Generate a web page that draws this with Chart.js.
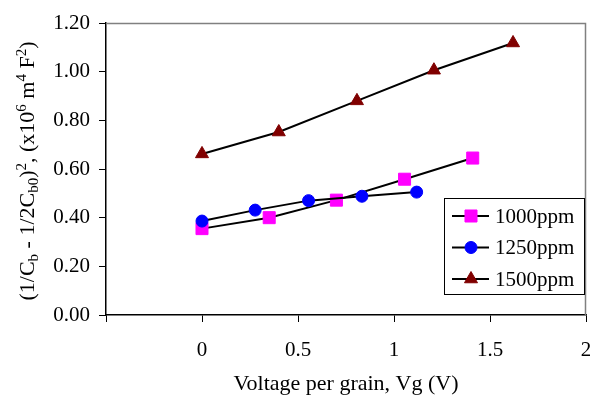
<!DOCTYPE html>
<html>
<head>
<meta charset="utf-8">
<script src="https://cdn.jsdelivr.net/npm/chart.js@4.4.0/dist/chart.umd.min.js"></script>
<style>
  html, body { margin: 0; padding: 0; background: #fff; }
  #wrap { width: 590px; height: 401px; position: relative; }
</style>
</head>
<body>
<div id="wrap"><canvas id="cvChart" width="590" height="401"></canvas></div>
<script>
// series
const seriesNames = ['1000ppm', '1250ppm', '1500ppm'];
const x1000 = [0, 0.35, 0.70, 1.055, 1.41];
const y1000 = [0.355, 0.40, 0.472, 0.558, 0.645];
const x1250 = [0, 0.277, 0.555, 0.833, 1.118];
const y1250 = [0.386, 0.431, 0.470, 0.488, 0.505];
const x1500 = [0, 0.40, 0.807, 1.208, 1.62];
const y1500 = [0.662, 0.752, 0.880, 1.006, 1.118];
const xTicks = [-0.5, 0, 0.5, 1, 1.5, 2];
const yTicks = [0, 0.2, 0.4, 0.6, 0.8, 1.0, 1.2];

const SERIF = '"Liberation Serif", "Times New Roman", serif';
const FS = 21;
const TITLE_FS = 22;

function pts(xs, ys) {
    return xs.map(function (x, i) { return { x: x, y: ys[i] }; });
}

const styles = [
    { color: '#ff00ff', shape: 'rect', r: 8.5 },
    { color: '#0000ff', shape: 'circle', r: 6 },
    { color: '#800000', shape: 'triangle', r: 7.5 }
];
const allData = [pts(x1000, y1000), pts(x1250, y1250), pts(x1500, y1500)];

// axis titles, plot frame and legend box
const decorPlugin = {
    id: 'decor',
    afterDraw: function (chart) {
        const ctx = chart.ctx;
        const a = chart.chartArea;
        ctx.save();

        // grey top/right frame
        ctx.strokeStyle = '#808080';
        ctx.lineWidth = 1.5;
        ctx.beginPath();
        ctx.moveTo(a.left, a.top + 0.5);
        ctx.lineTo(a.right - 0.5, a.top + 0.5);
        ctx.lineTo(a.right - 0.5, a.bottom);
        ctx.stroke();

        // x title
        ctx.fillStyle = '#000';
        ctx.font = TITLE_FS + 'px ' + SERIF;
        ctx.textAlign = 'center';
        ctx.textBaseline = 'middle';
        ctx.fillText('Voltage per grain, Vg (V)', (a.left + a.right) / 2, 384);

        // y title with sub/superscripts
        const parts = [
            ['(1/C', 0], ['b', 1], [' - 1/2C', 0], ['b0', 1], [')', 0], ['2', -1],
            [', (x10', 0], ['6', -1], [' m', 0], ['4', -1], [' F', 0], ['2', -1], [')', 0]
        ];
        const small = 15;
        let total = 0;
        parts.forEach(function (p) {
            ctx.font = (p[1] ? small : TITLE_FS) + 'px ' + SERIF;
            total += ctx.measureText(p[0]).width;
        });
        ctx.translate(27, (a.top + a.bottom) / 2 + 2);
        ctx.rotate(-Math.PI / 2);
        ctx.textAlign = 'left';
        ctx.textBaseline = 'alphabetic';
        let cx = -total / 2;
        parts.forEach(function (p) {
            ctx.font = (p[1] ? small : TITLE_FS) + 'px ' + SERIF;
            const dy = p[1] === 1 ? 4 : (p[1] === -1 ? -8 : 0);
            ctx.fillText(p[0], cx, 7 + dy);
            cx += ctx.measureText(p[0]).width;
        });
        ctx.restore();

        // legend
        ctx.save();
        const lx = 444, ly = 198, lw = 140, lh = 96;
        ctx.fillStyle = '#fff';
        ctx.fillRect(lx, ly, lw, lh);
        ctx.strokeStyle = '#000';
        ctx.lineWidth = 1;
        ctx.strokeRect(lx + 0.5, ly + 0.5, lw, lh);
        seriesNames.forEach(function (name, i) {
            const y = 216 + i * 31.5;
            ctx.strokeStyle = '#000';
            ctx.lineWidth = 2;
            ctx.beginPath();
            ctx.moveTo(452, y);
            ctx.lineTo(489, y);
            ctx.stroke();
            ctx.fillStyle = styles[i].color;
            ctx.strokeStyle = styles[i].color;
            ctx.lineWidth = 1;
            Chart.helpers.drawPoint(ctx, { pointStyle: styles[i].shape, radius: styles[i].r, borderWidth: 1 }, 471, y);
            ctx.fillStyle = '#000';
            ctx.font = FS + 'px ' + SERIF;
            ctx.textAlign = 'left';
            ctx.textBaseline = 'middle';
            ctx.fillText(name, 495, y + 1);
        });
        ctx.restore();
    }
};

const bgPlugin = {
    id: 'bg',
    beforeDraw: function (chart) {
        const ctx = chart.ctx;
        ctx.save();
        ctx.fillStyle = '#fff';
        ctx.fillRect(0, 0, chart.width, chart.height);
        ctx.restore();
    }
};

const ctx = document.getElementById('cvChart').getContext('2d');
const chart = new Chart(ctx, {
    type: 'scatter',
    data: {
        datasets: seriesNames.map(function (name, i) {
            return {
                label: name,
                data: allData[i],
                showLine: true,
                borderColor: '#000',
                borderWidth: 2,
                pointStyle: styles[i].shape,
                pointRadius: styles[i].r,
                pointHoverRadius: styles[i].r,
                pointBackgroundColor: styles[i].color,
                pointBorderColor: styles[i].color,
                pointBorderWidth: 1,
                order: 2 - i
            };
        })
    },
    options: {
        responsive: false,
        animation: false,
        layout: { autoPadding: false, padding: { top: 23, right: 4, left: 0, bottom: 0 } },
        plugins: {
            legend: { display: false },
            tooltip: { enabled: false }
        },
        scales: {
            x: {
                type: 'linear',
                min: -0.5,
                max: 2,
                afterBuildTicks: function (axis) {
                    axis.ticks = xTicks.map(function (v) { return { value: v }; });
                },
                afterFit: function (axis) {
                    axis.height = 86;
                    axis.paddingLeft = 0;
                    axis.paddingRight = 0;
                },
                ticks: {
                    color: '#000',
                    font: { family: SERIF, size: FS },
                    padding: 16,
                    maxRotation: 0,
                    callback: function (v) { return v < 0 ? '' : String(v); }
                },
                grid: {
                    drawOnChartArea: false,
                    color: '#000',
                    tickLength: 7,
                    tickWidth: 1
                },
                border: { color: '#000', width: 1.5 }
            },
            y: {
                type: 'linear',
                min: 0,
                max: 1.2,
                afterBuildTicks: function (axis) {
                    axis.ticks = yTicks.map(function (v) { return { value: v }; });
                },
                afterFit: function (axis) {
                    axis.width = 106;
                    axis.paddingTop = 0;
                    axis.paddingBottom = 0;
                },
                ticks: {
                    color: '#000',
                    font: { family: SERIF, size: FS },
                    padding: 9,
                    callback: function (v) { return Number(v).toFixed(2); }
                },
                grid: {
                    drawOnChartArea: false,
                    color: '#000',
                    tickLength: 7,
                    tickWidth: 1
                },
                border: { color: '#000', width: 1.5 }
            }
        }
    },
    plugins: [bgPlugin, decorPlugin]
});
</script>
</body>
</html>
